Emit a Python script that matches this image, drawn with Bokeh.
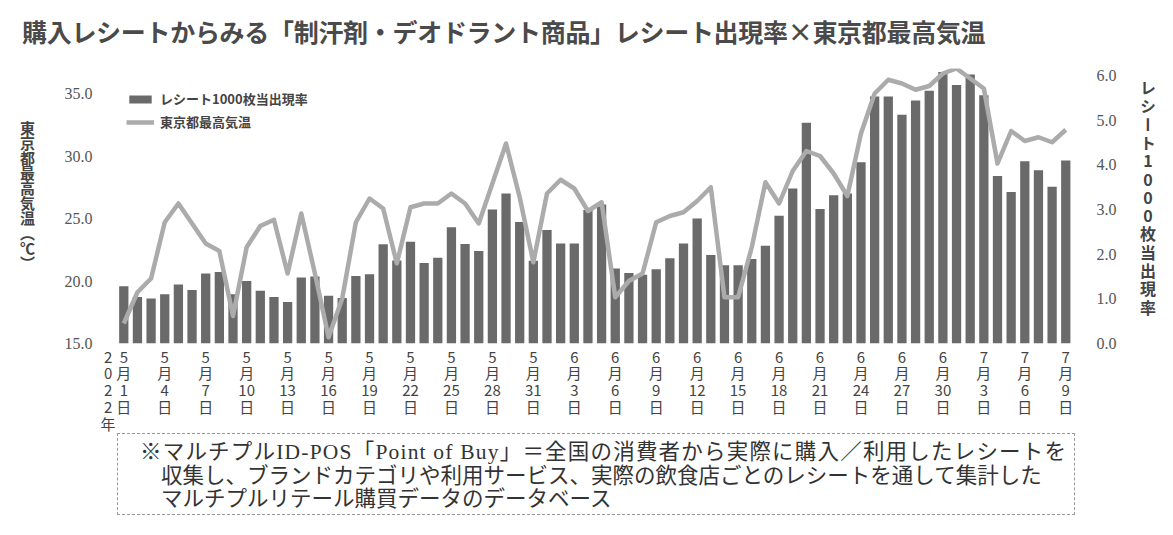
import pandas as pd
from bokeh.plotting import figure
from bokeh.models import (Range1d, LinearAxis, FixedTicker, Legend, LegendItem,
                          ColumnDataSource, Div, NumeralTickFormatter)
from bokeh.layouts import column, row
from bokeh.embed import file_html
from bokeh.resources import INLINE

# ---------------- data ----------------
start_date = "2022-05-01"
end_date = "2022-07-09"
label_step = 3

# receipts per 1000 (right axis)
rate = [1.28, 1.04, 1.01, 1.10, 1.32, 1.20, 1.57, 1.60, 1.10, 1.40,
        1.18, 1.04, 0.93, 1.48, 1.50, 1.07, 1.02, 1.51, 1.55, 2.22,
        1.86, 2.28, 1.80, 1.92, 2.60, 2.23, 2.07, 3.00, 3.36, 2.72,
        1.85, 2.54, 2.24, 2.24, 2.99, 3.11, 1.68, 1.58, 1.54, 1.66,
        1.91, 2.24, 2.80, 1.98, 1.75, 1.75, 1.89, 2.19, 2.86, 3.47,
        4.94, 3.01, 3.32, 3.36, 4.06, 5.53, 5.53, 5.12, 5.44, 5.66,
        6.08, 5.79, 6.02, 5.56, 3.75, 3.39, 4.08, 3.88, 3.51, 4.10]

# Tokyo max temperature (left axis)
temp = [16.6, 19.1, 20.2, 24.7, 26.2, 24.6, 23.0, 22.4, 17.2, 22.7,
        24.4, 24.9, 20.6, 25.4, 20.6, 15.5, 18.6, 24.7, 26.6, 25.8,
        21.4, 25.9, 26.2, 26.2, 27.0, 26.2, 24.6, 27.8, 31.0, 26.7,
        21.5, 27.0, 28.1, 27.4, 25.6, 26.3, 18.7, 20.0, 20.6, 24.7,
        25.2, 25.5, 26.4, 27.5, 18.7, 18.7, 22.7, 27.9, 26.2, 28.8,
        30.4, 30.0, 28.6, 26.8, 31.8, 35.0, 36.1, 35.8, 35.3, 35.6,
        36.6, 37.0, 36.2, 35.4, 29.4, 32.0, 31.2, 31.5, 31.1, 32.1]

left_ticks = [15, 20, 25, 30, 35]
right_ticks = [0, 1, 2, 3, 4, 5, 6]

title_text = "購入レシートからみる「制汗剤・デオドラント商品」レシート出現率×東京都最高気温"
left_title = "東京都最高気温（℃）"
right_title = "レシート1000枚当出現率"
year_text = "2022年"
bar_name = "レシート1000枚当出現率"
line_name = "東京都最高気温"
note_lines = [
    "※マルチプルID-POS「Point of Buy」＝全国の消費者から実際に購入／利用したレシートを",
    "収集し、ブランドカテゴリや利用サービス、実際の飲食店ごとのレシートを通して集計した",
    "マルチプルリテール購買データのデータベース",
]

# ---------------- build ----------------
dates = pd.date_range(start_date, end_date, freq="D")
idx = list(range(len(dates)))
src = ColumnDataSource(dict(x=idx, rate=rate, temp=temp))

JP = "Noto Sans CJK JP"
SERIF = "Liberation Serif"

W_L, W_R = 50, 50
FIG_W = 1173 - W_L - W_R
TITLE_H = 60
FIG_H = 387
OVERLAP = 14

p = figure(width=FIG_W, height=FIG_H, title=None,
           x_range=Range1d(-1.34, 69.86), y_range=Range1d(15, 37),
           output_backend="svg", toolbar_location=None,
           min_border_left=55, min_border_right=46,
           min_border_top=8, min_border_bottom=104)
p.extra_y_ranges = {"rate": Range1d(0, 6.157)}
p.outline_line_color = None
p.xgrid.grid_line_color = None
p.ygrid.grid_line_color = None
p.background_fill_color = "white"
p.border_fill_color = "white"

bars = p.vbar(x="x", top="rate", bottom=0, width=0.68, source=src,
              y_range_name="rate", fill_color="#6a6a6a", line_color=None)
line = p.line(x="x", y="temp", source=src, line_color="#ababab",
              line_width=4.5, line_join="round")

# x axis: date ticks every 3 days plus the year label at the left
xax = p.xaxis[0]
tick_idx = idx[::label_step]
year_pos = -1.15
xax.ticker = FixedTicker(ticks=[year_pos] + tick_idx)
overrides = {i: f"{dates[i].month}\n月\n{dates[i].day}\n日" for i in tick_idx}
overrides[year_pos] = "\n".join(year_text)
xax.major_label_overrides = overrides
xax.axis_line_color = None
xax.major_tick_line_color = None
xax.minor_tick_line_color = None
xax.major_label_standoff = -4
xax.major_label_text_font = JP
xax.major_label_text_font_size = "15px"
xax.major_label_text_line_height = 0.8
xax.major_label_text_color = "#444444"

# left axis
yax = p.yaxis[0]
yax.ticker = FixedTicker(ticks=left_ticks)
yax.formatter = NumeralTickFormatter(format="0.0")
yax.axis_line_color = None
yax.major_tick_line_color = None
yax.minor_tick_line_color = None
yax.major_label_standoff = 7
yax.major_label_text_font = SERIF
yax.major_label_text_font_size = "16px"
yax.major_label_text_color = "#555555"

# right axis
rax = LinearAxis(y_range_name="rate", ticker=FixedTicker(ticks=right_ticks),
                 formatter=NumeralTickFormatter(format="0.0"))
rax.axis_line_color = None
rax.major_tick_line_color = None
rax.minor_tick_line_color = None
rax.major_label_standoff = 13
rax.major_label_text_font = SERIF
rax.major_label_text_font_size = "16px"
rax.major_label_text_color = "#555555"
p.add_layout(rax, "right")

# legend
legend = Legend(items=[LegendItem(label=bar_name, renderers=[bars]),
                       LegendItem(label=line_name, renderers=[line])],
                location="top_left", margin=21, padding=10, spacing=4,
                glyph_width=28, glyph_height=10, label_height=18, label_standoff=6,
                border_line_color=None, background_fill_alpha=0,
                label_text_font=JP, label_text_font_size="13px",
                label_text_font_style="bold", label_text_color="#444444")
p.add_layout(legend, "center")

# ---------------- surrounding texts ----------------
title_div = Div(
    text=('<div style="margin:15px 0 0 22px;font-family:\'Noto Sans CJK JP\';'
          'font-size:25px;line-height:32px;font-weight:bold;color:#4a4a4a;'
          'letter-spacing:-0.3px;white-space:nowrap;">' + title_text + '</div>'),
    width=1173, height=TITLE_H, margin=(0, 0, 0, 0))

left_div = Div(
    text=('<div style="writing-mode:vertical-rl;margin:61px 0 0 20px;'
          'font-family:\'Noto Sans CJK JP\';font-size:15px;line-height:15px;'
          'font-weight:bold;color:#444;white-space:nowrap;">' + left_title + '</div>'),
    width=W_L, height=FIG_H, margin=(0, 0, 0, 0))

right_div = Div(
    text=('<div style="writing-mode:vertical-rl;text-orientation:upright;'
          'margin:20px 0 0 17px;font-family:\'Noto Sans CJK JP\';font-size:16px;'
          'line-height:16px;letter-spacing:2.3px;font-weight:bold;color:#444;'
          'white-space:nowrap;">' + right_title + '</div>'),
    width=W_R, height=FIG_H, margin=(0, 0, 0, 0))

lines_html = "".join(
    f'<div style="padding-left:{0 if i == 0 else 21}px;'
    f'letter-spacing:{1.2 if i == 0 else 0}px;">{t}</div>'
    for i, t in enumerate(note_lines))
note_html = (
    '<div style="box-sizing:border-box;width:958px;height:82px;margin-left:117px;'
    'margin-top:0px;border:1px dashed #999;padding:7px 0 0 22px;'
    "font-family:'Liberation Serif','Noto Sans CJK JP',serif;font-size:21.5px;"
    'line-height:23.5px;color:#333;white-space:nowrap;">' + lines_html + '</div>')
note_h = 535 - TITLE_H - FIG_H + OVERLAP
try:
    note = Div(text=note_html, width=1173, height=note_h, margin=(-OVERLAP, 0, 0, 0))
except Exception:
    note = Div(text=note_html, width=1173, height=note_h - OVERLAP, margin=(0, 0, 0, 0))

layout = column(title_div, row(left_div, p, right_div, spacing=0), note, spacing=0)
open("out.html", "w").write(file_html(layout, INLINE))
